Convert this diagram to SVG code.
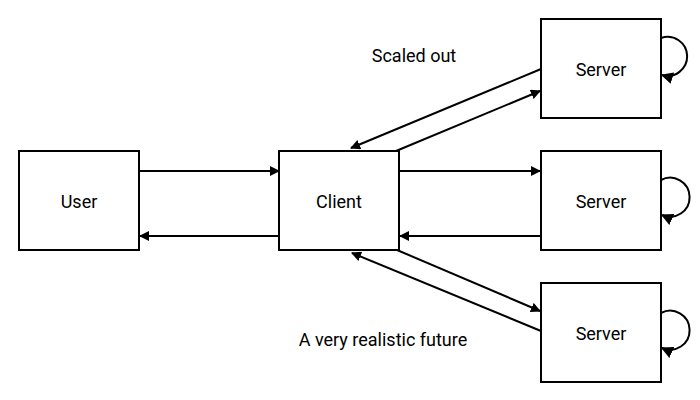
<svg xmlns="http://www.w3.org/2000/svg" width="700" height="400" viewBox="0 0 700 400">
<style>
.box{fill:#fff;stroke:#000;stroke-width:2}
.lbl{font-family:Roboto,"Liberation Sans",sans-serif;font-size:18px;fill:#000;text-anchor:middle;dominant-baseline:central}
.edge{fill:none;stroke:#000;stroke-width:2;marker-end:url(#ah)}
.loop{fill:none;stroke:#000;stroke-width:2;marker-end:url(#ahl)}
</style>
<defs>
<marker id="ah" viewBox="0 0 10 10" refX="9" refY="5" markerWidth="5" markerHeight="5" orient="auto" markerUnits="strokeWidth">
<path d="M0,0 L10,5 L0,10 z" fill="#000"/>
</marker>
<marker id="ahl" viewBox="0 0 10 10" refX="9" refY="5" markerWidth="6" markerHeight="6" orient="auto" markerUnits="strokeWidth">
<path d="M0,0 L10,5 L0,10 z" fill="#000"/>
</marker>
</defs>
<rect width="700" height="400" fill="#fff"/>
<g id="connectors">
<line class="edge" x1="140" y1="171" x2="279" y2="171"/>
<line class="edge" x1="279" y1="236" x2="140" y2="236"/>
<line class="edge" x1="400" y1="171" x2="540" y2="171"/>
<line class="edge" x1="541" y1="236" x2="400" y2="236"/>
<line class="edge" x1="396" y1="151" x2="540" y2="91"/>
<line class="edge" x1="541" y1="69" x2="351" y2="148"/>
<line class="edge" x1="397" y1="250" x2="540" y2="311"/>
<line class="edge" x1="541" y1="331" x2="352" y2="253"/>
<path class="loop" d="M661,38 A19.5,19.5 0 1 1 662,75"/>
<path class="loop" d="M661,180 A19.5,19.5 0 1 1 662,215"/>
<path class="loop" d="M661,313 A19.5,19.5 0 1 1 662,348"/>
</g>
<g id="user"><rect class="box" x="19" y="151" width="120" height="99"/><text class="lbl" x="79" y="201">User</text></g>
<g id="client"><rect class="box" x="279" y="151" width="120" height="99"/><text class="lbl" x="339" y="201">Client</text></g>
<g id="server1"><rect class="box" x="541" y="19" width="120" height="99"/><text class="lbl" x="601" y="69">Server</text></g>
<g id="server2"><rect class="box" x="541" y="151" width="120" height="99"/><text class="lbl" x="601" y="201">Server</text></g>
<g id="server3"><rect class="box" x="541" y="283" width="120" height="99"/><text class="lbl" x="601" y="333">Server</text></g>
<g id="labels">
<text class="lbl" x="414" y="55">Scaled out</text>
<text class="lbl" x="383" y="339">A very realistic future</text>
</g>
</svg>
